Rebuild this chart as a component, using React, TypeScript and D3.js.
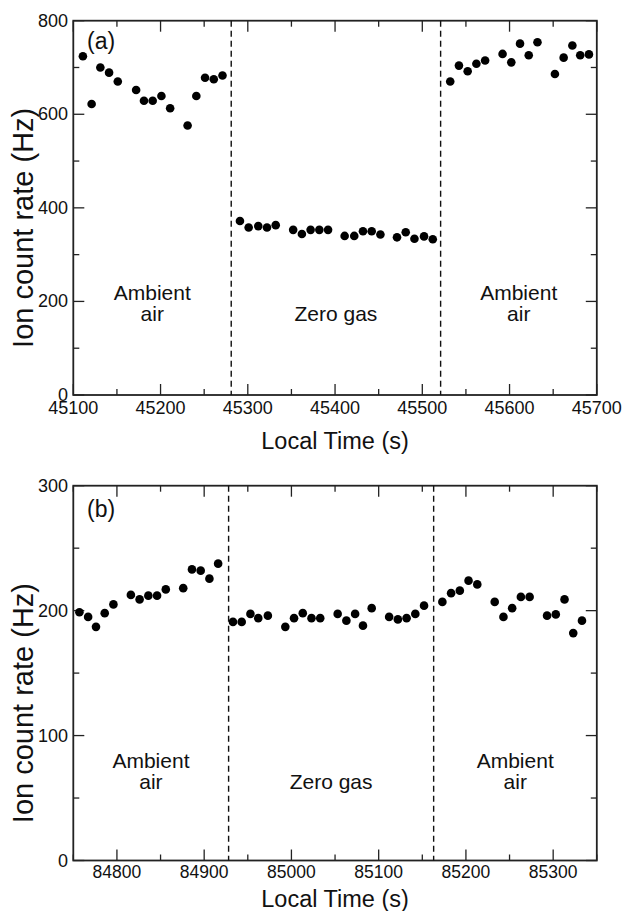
import React, { useEffect, useRef } from "react";
import * as d3 from "d3";

// panel (a)
const timeA1 = [45111, 45121, 45131, 45141, 45151, 45172, 45181, 45191, 45201, 45211, 45231, 45241, 45251, 45261, 45271];
const rateA1 = [724, 622, 700, 689, 670, 652, 629, 629, 639, 613, 576, 639, 678, 675, 683];
const timeA2 = [45291, 45301, 45312, 45322, 45332, 45352, 45362, 45372, 45382, 45392, 45411, 45422, 45432, 45442, 45452, 45471, 45481, 45491, 45502, 45512];
const rateA2 = [372, 358, 361, 358, 363, 353, 344, 353, 353, 353, 340, 340, 350, 350, 343, 337, 348, 334, 339, 333];
const timeA3 = [45532, 45542, 45552, 45562, 45572, 45592, 45602, 45612, 45622, 45632, 45652, 45662, 45672, 45681, 45691];
const rateA3 = [670, 704, 692, 708, 715, 729, 711, 751, 726, 754, 686, 721, 747, 726, 728];
const switchA = [45281, 45521];

// panel (b)
const timeB1 = [84757, 84767, 84776, 84786, 84796, 84816, 84826, 84836, 84846, 84856, 84876, 84886, 84896, 84906, 84916];
const rateB1 = [198.7, 195, 187, 198, 205, 212.6, 209, 212, 212, 217, 218, 233, 232, 225.6, 237.6];
const timeB2 = [84933, 84943, 84953, 84962, 84973, 84993, 85003, 85013, 85023, 85033, 85053, 85063, 85073, 85082, 85092, 85112, 85122, 85132, 85142, 85152];
const rateB2 = [191, 191, 197.4, 194, 196, 187, 194, 198, 194, 194, 197.4, 192, 197.4, 188, 202, 195, 193, 194, 197.4, 204];
const timeB3 = [85173, 85183, 85193, 85203, 85213, 85233, 85243, 85253, 85263, 85273, 85293, 85303, 85313, 85323, 85333];
const rateB3 = [207, 214, 216, 224, 221, 207, 195, 202, 211, 211, 196, 197, 209, 182, 192];
const switchB = [84928, 85163];

const xTicksA = [45100, 45200, 45300, 45400, 45500, 45600, 45700];
const yTicksA = [0, 200, 400, 600, 800];
const xTicksB = [84800, 84900, 85000, 85100, 85200, 85300];
const yTicksB = [0, 100, 200, 300];

const regionLabels = ["Ambient\nair", "Zero gas", "Ambient\nair"];

const FONT = "'Liberation Sans', Arial, Helvetica, sans-serif";

function drawPanel(svg, opt) {
  const left = 73.3, right = 596.8;
  const { top, bottom } = opt;
  const g = svg.append("g");

  const x = d3.scaleLinear().domain(opt.xDomain).range([left, right]);
  const y = d3.scaleLinear().domain(opt.yDomain).range([bottom, top]);

  const points = [];
  opt.segments.forEach(([ts, vs]) => ts.forEach((t, i) => points.push([t, vs[i]])));

  // minor + major ticks, mirrored on all four sides
  const xMinor = d3.range(opt.xDomain[0], opt.xDomain[1] + 1, 50);
  const yMinor = d3.range(opt.yDomain[0], opt.yDomain[1] + 0.001, opt.yMinorStep);
  const isMajorX = (v) => v % 100 === 0;
  const isMajorY = (v) => Math.abs(v % opt.yMajorStep) < 1e-6;

  xMinor.forEach((v) => {
    const len = isMajorX(v) ? 11 : 6;
    const px = x(v);
    g.append("line").attr("x1", px).attr("x2", px).attr("y1", bottom).attr("y2", bottom - len)
      .attr("stroke", "#222").attr("stroke-width", 1.3);
    g.append("line").attr("x1", px).attr("x2", px).attr("y1", top).attr("y2", top + len)
      .attr("stroke", "#222").attr("stroke-width", 1.3);
  });
  yMinor.forEach((v) => {
    const len = isMajorY(v) ? 11 : 6;
    const py = y(v);
    g.append("line").attr("x1", left).attr("x2", left + len).attr("y1", py).attr("y2", py)
      .attr("stroke", "#222").attr("stroke-width", 1.3);
    g.append("line").attr("x1", right).attr("x2", right - len).attr("y1", py).attr("y2", py)
      .attr("stroke", "#222").attr("stroke-width", 1.3);
  });

  g.append("rect")
    .attr("x", left).attr("y", top)
    .attr("width", right - left).attr("height", bottom - top)
    .attr("fill", "none").attr("stroke", "#222").attr("stroke-width", 1.8);

  // tick labels
  g.selectAll(".xt").data(opt.xTicks).enter().append("text")
    .attr("x", (d) => x(d)).attr("y", bottom + opt.xLabelDy)
    .attr("text-anchor", "middle").attr("font-size", opt.xTickSize).attr("font-family", FONT)
    .attr("fill", "#111").text((d) => d);
  g.selectAll(".yt").data(opt.yTicks).enter().append("text")
    .attr("x", 68).attr("y", (d) => y(d) + 6)
    .attr("text-anchor", "end").attr("font-size", 18).attr("font-family", FONT)
    .attr("fill", "#111").text((d) => d);

  // switch lines
  opt.switches.forEach((t) => {
    g.append("line").attr("x1", x(t)).attr("x2", x(t)).attr("y1", top).attr("y2", bottom)
      .attr("stroke", "#111").attr("stroke-width", 1.4).attr("stroke-dasharray", "6,4");
  });

  // points
  g.selectAll(".pt").data(points).enter().append("circle")
    .attr("cx", (d) => x(d[0])).attr("cy", (d) => y(d[1])).attr("r", 4.3).attr("fill", "#000");

  // region labels
  const bounds = [opt.xDomain[0], ...opt.switches, opt.xDomain[1]];
  regionLabels.forEach((lab, i) => {
    const cx = (x(bounds[i]) + x(bounds[i + 1])) / 2;
    const lines = lab.split("\n");
    lines.forEach((ln, j) => {
      const yy = top + opt.labelBase - (lines.length - 1 - j) * 20.5;
      g.append("text").attr("x", cx).attr("y", yy).attr("text-anchor", "middle")
        .attr("font-size", 21).attr("font-family", FONT).attr("fill", "#111").text(ln);
    });
  });

  g.append("text").attr("x", 87).attr("y", top + opt.tagDy)
    .attr("font-size", 23).attr("font-family", FONT).attr("fill", "#111").text(opt.tag);

  g.append("text").attr("x", (left + right) / 2).attr("y", bottom + opt.titleDy)
    .attr("text-anchor", "middle").attr("font-size", 23.5).attr("font-family", FONT)
    .attr("fill", "#111").text("Local Time (s)");

  g.append("text")
    .attr("transform", `translate(33,${(top + bottom) / 2 + opt.yTitleShift}) rotate(-90)`)
    .attr("text-anchor", "middle").attr("font-size", 29).attr("font-family", FONT)
    .attr("fill", "#111").text("Ion count rate (Hz)");
}

export default function App() {
  const ref = useRef(null);

  useEffect(() => {
    const svg = d3.select(ref.current);
    svg.selectAll("*").remove();

    drawPanel(svg, {
      top: 20.7, bottom: 395,
      xDomain: [45100, 45700], yDomain: [0, 800],
      yMinorStep: 100, yMajorStep: 200,
      xTicks: xTicksA, yTicks: yTicksA,
      segments: [[timeA1, rateA1], [timeA2, rateA2], [timeA3, rateA3]],
      switches: switchA,
      xLabelDy: 19, xTickSize: 18, titleDy: 54,
      labelBase: 300, tag: "(a)", tagDy: 28, yTitleShift: 20,
    });

    drawPanel(svg, {
      top: 485.7, bottom: 860.5,
      xDomain: [84750, 85350], yDomain: [0, 300],
      yMinorStep: 50, yMajorStep: 100,
      xTicks: xTicksB, yTicks: yTicksB,
      segments: [[timeB1, rateB1], [timeB2, rateB2], [timeB3, rateB3]],
      switches: switchB,
      xLabelDy: 17, xTickSize: 17.5, titleDy: 46,
      labelBase: 303, tag: "(b)", tagDy: 31, yTitleShift: 30,
    });
  }, []);

  return (
    <svg
      ref={ref}
      width={622}
      height={911}
      style={{ position: "absolute", left: 0, top: 0, background: "#fff" }}
    />
  );
}
